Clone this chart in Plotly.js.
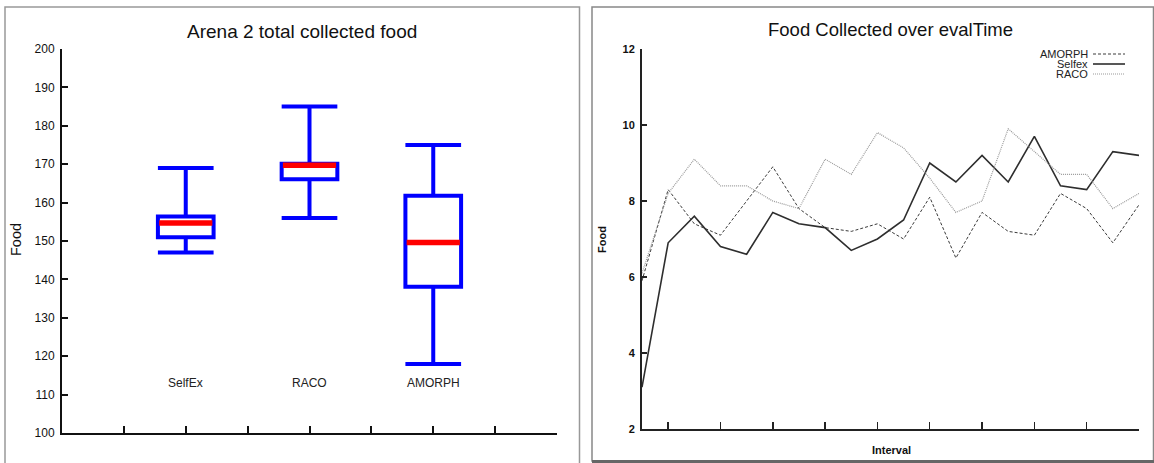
<!DOCTYPE html>
<html><head><meta charset="utf-8">
<script src="https://cdn.plot.ly/plotly-3.0.1.min.js"></script>
<style>html,body{margin:0;padding:0;background:#fff;}#chart{width:1154px;height:463px;}</style>
</head><body><div id="chart"></div>
<script>
// ---- Left chart: box plot data ----
const categories = ['SelfEx', 'RACO', 'AMORPH'];
const lowerWhisker = [147, 156, 118];
const q1Values = [151, 166.1, 138.1];
const medianValues = [154.7, 169.7, 149.6];
const q3Values = [156.4, 170.1, 161.8];
const upperWhisker = [169, 185, 175];
const leftYTicks = [100, 110, 120, 130, 140, 150, 160, 170, 180, 190, 200];

// ---- Right chart: line data ----
const intervals = [1, 2, 3, 4, 5, 6, 7, 8, 9, 10, 11, 12, 13, 14, 15, 16, 17, 18, 19, 20];
const amorph = [5.9, 8.3, 7.4, 7.1, 8.0, 8.9, 7.8, 7.3, 7.2, 7.4, 7.0, 8.1, 6.5, 7.7, 7.2, 7.1, 8.2, 7.8, 6.9, 7.9];
const selfex = [3.1, 6.9, 7.6, 6.8, 6.6, 7.7, 7.4, 7.3, 6.7, 7.0, 7.5, 9.0, 8.5, 9.2, 8.5, 9.7, 8.4, 8.3, 9.3, 9.2];
const raco   = [6.1, 8.2, 9.1, 8.4, 8.4, 8.0, 7.8, 9.1, 8.7, 9.8, 9.4, 8.6, 7.7, 8.0, 9.9, 9.3, 8.7, 8.7, 7.8, 8.2];
const seriesNames = ['AMORPH', 'Selfex', 'RACO'];
const rightYTicks = [2, 4, 6, 8, 10, 12];

const W = 1154, H = 463;
const px = x => x / W, py = y => 1 - y / H;
const FONT = 'Liberation Sans, Arial, Helvetica, sans-serif';
const catIdx = categories.map((c, i) => i);

const styles = {
  AMORPH: {color: '#3a3a3a', width: 1, dash: '3px,2px'},
  Selfex: {color: '#2e2e2e', width: 1.6, dash: 'solid'},
  RACO:   {color: '#9a9a9a', width: 1.2, dash: '1px,1px'}
};

const traces = [
  {
    type: 'box', x: catIdx, q1: q1Values, median: medianValues, q3: q3Values,
    lowerfence: lowerWhisker, upperfence: upperWhisker,
    xaxis: 'x', yaxis: 'y', width: 0.45, whiskerwidth: 1,
    line: {color: '#0000ff', width: 4}, fillcolor: 'rgba(0,0,0,0)',
    boxpoints: false, showlegend: false, hoverinfo: 'skip'
  },
  {
    type: 'box', x: catIdx, q1: medianValues, median: medianValues, q3: medianValues,
    lowerfence: medianValues, upperfence: medianValues,
    xaxis: 'x', yaxis: 'y', width: 0.43, whiskerwidth: 0,
    line: {color: '#ff0000', width: 5.5}, fillcolor: 'rgba(0,0,0,0)',
    boxpoints: false, showlegend: false, hoverinfo: 'skip'
  }
];
const seriesData = {AMORPH: amorph, Selfex: selfex, RACO: raco};
seriesNames.forEach(n => {
  traces.push({
    type: 'scatter', mode: 'lines', x: intervals, y: seriesData[n], name: n,
    xaxis: 'x2', yaxis: 'y2', line: styles[n], showlegend: false, hoverinfo: 'skip'
  });
});

const annotations = [
  {text: 'Arena 2 total collected food', xref: 'paper', yref: 'paper', x: px(302), y: py(31),
   xanchor: 'center', yanchor: 'middle', showarrow: false, font: {size: 19, color: '#111', family: FONT}},
  {text: 'Food', xref: 'paper', yref: 'paper', x: px(16), y: py(240), textangle: -90,
   xanchor: 'center', yanchor: 'middle', showarrow: false, font: {size: 14.5, color: '#111', family: FONT}},
  {text: 'Food Collected over evalTime', xref: 'paper', yref: 'paper', x: px(890), y: py(29),
   xanchor: 'center', yanchor: 'middle', showarrow: false, font: {size: 18.5, color: '#111', family: FONT}},
  {text: 'Food', xref: 'paper', yref: 'paper', x: px(602), y: py(240), textangle: -90,
   xanchor: 'center', yanchor: 'middle', showarrow: false, font: {size: 11, color: '#111', family: FONT, weight: 'bold'}},
  {text: 'Interval', xref: 'paper', yref: 'paper', x: px(891), y: py(450),
   xanchor: 'center', yanchor: 'middle', showarrow: false, font: {size: 11, color: '#111', family: FONT, weight: 'bold'}}
];
categories.forEach((c, i) => {
  annotations.push({text: c, xref: 'x', yref: 'y', x: i, y: 113, xanchor: 'center', yanchor: 'middle',
    showarrow: false, font: {size: 12, color: '#222', family: FONT}});
});
const legendY = [54, 64, 74];
const shapes = [
  {type: 'rect', xref: 'paper', yref: 'paper', x0: px(5), x1: px(579.5), y0: -0.05, y1: py(7),
   line: {color: '#999', width: 1.5}, fillcolor: 'rgba(0,0,0,0)'},
  {type: 'rect', xref: 'paper', yref: 'paper', x0: px(592), x1: px(1153.5), y0: py(461), y1: py(7),
   line: {color: '#888', width: 1.5}, fillcolor: 'rgba(0,0,0,0)'},
  {type: 'line', xref: 'paper', yref: 'paper', x0: px(592), x1: px(1154), y0: py(461.5), y1: py(461.5),
   line: {color: '#666', width: 3}}
];
seriesNames.forEach((n, i) => {
  annotations.push({text: n, xref: 'paper', yref: 'paper', x: px(1089), y: py(legendY[i]),
    xanchor: 'right', yanchor: 'middle', showarrow: false, borderpad: 0,
    font: {size: 11, color: '#222', family: FONT}});
  shapes.push({type: 'line', xref: 'paper', yref: 'paper', x0: px(1093), x1: px(1125),
    y0: py(legendY[i]), y1: py(legendY[i]), line: styles[n]});
});

const layout = {
  width: W, height: H, margin: {l: 0, r: 0, t: 0, b: 0, pad: 0},
  paper_bgcolor: '#fff', plot_bgcolor: 'rgba(0,0,0,0)', font: {family: FONT, color: '#111'},
  showlegend: false, boxmode: 'overlay',
  xaxis: {domain: [px(62), px(557)], range: [-1, 3], tick0: -1, dtick: 0.5, ticks: 'inside', ticklen: 7,
    tickwidth: 2, tickcolor: '#111', showticklabels: false, showline: true, linecolor: '#111', linewidth: 2,
    showgrid: false, zeroline: false, anchor: 'y', fixedrange: true},
  yaxis: {domain: [py(433), py(49)], range: [100, 200], tickmode: 'array', tickvals: leftYTicks,
    ticks: 'inside', ticklen: 6, tickwidth: 2, tickcolor: '#111', showline: true, linecolor: '#111',
    linewidth: 2, showgrid: false, zeroline: false, anchor: 'x', ticklabelstandoff: 3,
    tickfont: {size: 12, color: '#111'}, fixedrange: true},
  xaxis2: {domain: [px(642), px(1139)], range: [1, 20], tick0: 0, dtick: 2, ticks: 'inside', ticklen: 7,
    tickwidth: 1.5, tickcolor: '#222', showticklabels: false, showline: true, linecolor: '#222', linewidth: 2,
    showgrid: false, zeroline: false, anchor: 'y2', fixedrange: true},
  yaxis2: {domain: [py(429), py(49)], range: [2, 12], tickmode: 'array', tickvals: rightYTicks,
    ticks: 'inside', ticklen: 5, tickwidth: 1.5, tickcolor: '#222', showline: true, linecolor: '#222',
    linewidth: 2, showgrid: false, zeroline: false, anchor: 'x2', ticklabelstandoff: 3,
    tickfont: {size: 11, color: '#111', weight: 'bold'}, fixedrange: true},
  annotations: annotations, shapes: shapes
};
Plotly.newPlot('chart', traces, layout, {displayModeBar: false, staticPlot: true});
</script></body></html>
